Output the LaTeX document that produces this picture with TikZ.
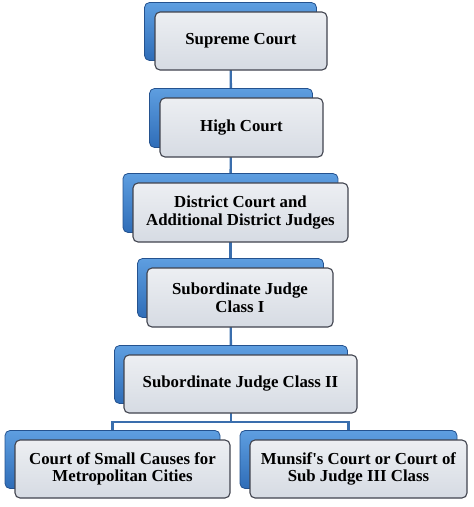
\documentclass[tikz,border=0pt]{standalone}
\usepackage{fontspec}
\setmainfont{Liberation Serif}
\usetikzlibrary{backgrounds}

\definecolor{backblue}{HTML}{2F6DB8}
\definecolor{backlight}{HTML}{5E9EE0}
\definecolor{backedge}{HTML}{24528F}
\definecolor{frontedge}{HTML}{41444F}
\definecolor{frontfill}{HTML}{D6DBE3}
\definecolor{linkblue}{HTML}{3A6EAD}

\begin{document}
\begin{tikzpicture}[x=1pt, y=-1pt,
	back/.style={shape=rectangle, rounded corners=5pt, draw=backedge, line width=0.8pt,
		top color=backlight, bottom color=backblue, inner sep=0pt},
	front/.style={shape=rectangle, rounded corners=5pt, draw=frontedge, line width=1.1pt,
		top color=white!55!frontfill, bottom color=frontfill, align=center, inner sep=0pt,
		font=\fontsize{16.8}{17.5}\selectfont\bfseries},
	link/.style={draw=linkblue, line width=2.4pt}]
	
	\useasboundingbox (0,0) rectangle (474,507);
	
	\node[back, minimum width=172pt, minimum height=58pt] (scb) at (230.5, 31.5) {};
	\node[front, minimum width=172pt, minimum height=58pt] (sc) at (241, 41) {Supreme Court};
	
	\node[back, minimum width=163pt, minimum height=59pt] (hcb) at (231, 118) {};
	\node[front, minimum width=163pt, minimum height=59pt] (hc) at (241.5, 127.5) {High Court};
	
	\node[back, minimum width=215pt, minimum height=59pt] (dcb) at (230.5, 203) {};
	\node[front, minimum width=215pt, minimum height=59pt] (dc) at (240.5, 212.5) {District Court and\\Additional District Judges};
	
	\node[back, minimum width=186pt, minimum height=59pt] (sj1b) at (230.5, 288) {};
	\node[front, minimum width=186pt, minimum height=59pt] (sj1) at (240, 297.5) {Subordinate Judge\\Class I};
	
	\node[back, minimum width=233pt, minimum height=58pt] (sj2b) at (231, 374.5) {};
	\node[front, minimum width=233pt, minimum height=58pt] (sj2) at (240.5, 384) {Subordinate Judge Class II};
	
	\node[back, minimum width=215pt, minimum height=58pt] (csb) at (112.5, 459.5) {};
	\node[front, minimum width=215pt, minimum height=58pt] (cs) at (122.5, 469) {Court of Small Causes for\\Metropolitan Cities};
	
	\node[back, minimum width=217pt, minimum height=58pt] (mcb) at (348.5, 459.5) {};
	\node[front, minimum width=217pt, minimum height=58pt] (mc) at (358.5, 469) {Munsif\textquotesingle s Court or Court of\\Sub Judge III Class};
	
	\coordinate (fork) at (231, 422);
	
	\begin{scope}[on background layer]
		\path[link] (scb) -- (hcb);
		\path[link] (hcb) -- (dcb);
		\path[link] (dcb) -- (sj1b);
		\path[link] (sj1b) -- (sj2b);
		\path[link] (sj2b) -- (fork);
		\path[link] (fork) -| (csb.north);
		\path[link] (fork) -| (mcb.north);
	\end{scope}
	
\end{tikzpicture}
\end{document}
